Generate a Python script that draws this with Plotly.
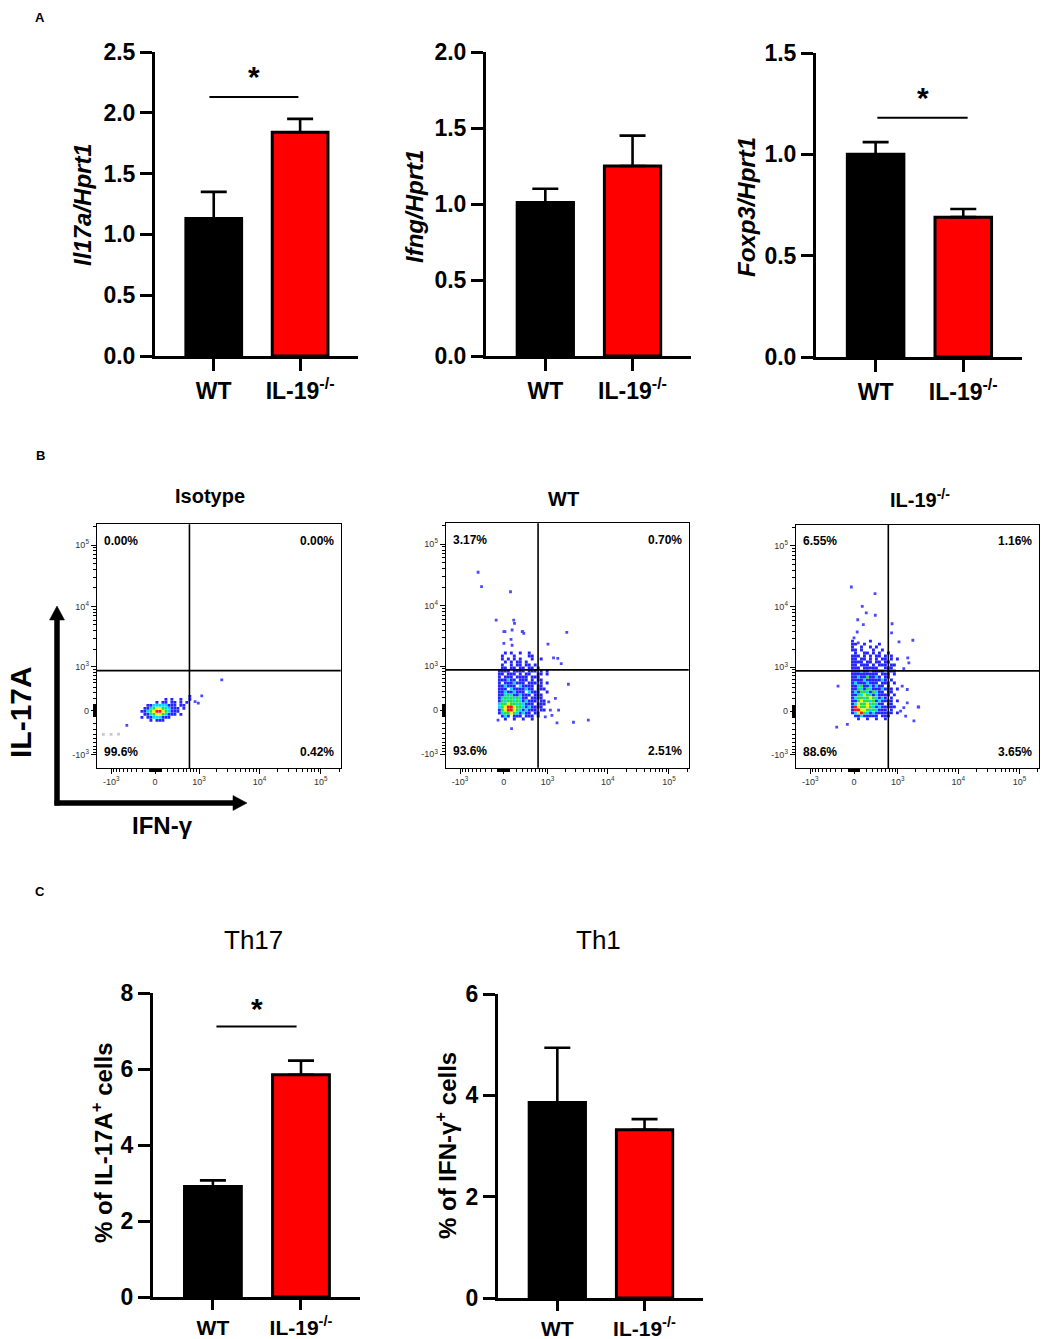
import numpy as np
import plotly.graph_objects as go

W, H = 1043, 1339
FONT = "Liberation Sans, Arial, sans-serif"

# ---------------- data ----------------
groups = ["WT", "IL-19<sup>-/-</sup>"]

il17a_mean = [1.13, 1.84]
il17a_sem = [0.22, 0.11]
ifng_mean = [1.01, 1.25]
ifng_sem = [0.09, 0.20]
foxp3_mean = [1.00, 0.69]
foxp3_sem = [0.06, 0.04]

th17_mean = [2.91, 5.85]
th17_sem = [0.16, 0.37]
th1_mean = [3.86, 3.32]
th1_sem = [1.08, 0.21]

# quadrant frequencies: UL, UR, LL, LR
iso_quads = ["0.00%", "0.00%", "99.6%", "0.42%"]
wt_quads = ["3.17%", "0.70%", "93.6%", "2.51%"]
ko_quads = ["6.55%", "1.16%", "88.6%", "3.65%"]

flow_tick_raw = [-1000, 0, 1000, 10000, 100000]
flow_tick_text = ["-10<sup>3</sup>", "0", "10<sup>3</sup>", "10<sup>4</sup>", "10<sup>5</sup>"]
gate_ifng_raw = 670
gate_il17_raw = 860

# pseudocolor density (arcsinh units, cofactor 400)
# . empty  b blue  c cyan  g green  y yellow  r red ; first row = top
iso_density = [
    "................b",
    "........b.b..b..b",
    ".....b.bb.bb.b.b.",
    "..bbcccccbbb.bb..",
    ".bbcgyygccbbb.b..",
    "bbcgyrrygcbbb....",
    ".bbcgyygcbbb.b...",
    "b.bbcccbbb.......",
    "...b.bbb.........",
]
wt_density = [
    "....b.b..b..b......",
    "...b...b....bb.....",
    "...b.b.b.b...b..b..",
    "....b.b.bb.b.......",
    "...b..b.bb.bb.b....",
    "...bb.bb.bb.bb.b...",
    "..bbbb.bbbb.bbb.b.b",
    "..bb.bbb.b.bb..bb.b",
    "..b.bbb.bbbb.bbb...",
    "..bbbcbb.bbb.b.bb..",
    "..b.bbbcbbb.bbb.b.b",
    "..bbcbbb.cbbbb.bb..",
    "..bbb.cbbbbcbb.bbb.",
    "..bbcbbcbbb.cbbb..b",
    "..bbcgcbbcbbb.bbb..",
    "..bcgcgcgcbb.bbbb..",
    "..bgcggcgcbcbbb.bb.",
    "..cggyggcgcbbb.bbb.",
    "..cgyrryggcbcbbbb..",
    "..bgyrrygcbcbbb.bb.",
    "..bcggygcbcbb.bb...",
    "...bcb.bbb.bbb.b...",
    "....b..b..b..b.....",
]
ko_density = [
    ".b.....b.........",
    ".bb..b....b......",
    ".b..b..b.b.......",
    ".bb.b...b..b.....",
    "..b..bb.b.b..b...",
    ".bbb.b.b.bb.b.b..",
    ".bb.bb.b.b.bb.b.b",
    ".bbbb.bb.bb.bb...",
    ".bb.bbb.b.bbb.bb.",
    ".bbb.bbbbb..bbb..",
    ".bbbcbb.bbbb.bbb.",
    ".bbbbbbbbb.bbb.b.",
    ".bbcbbgbbcb.bb...",
    ".bbbbcbbbbbcb.b..",
    ".bcbbbcbbb.bbb.b.",
    ".bbcgbbcbcbb.b...",
    ".bbgcbgcbbbcbbb.b",
    ".bcbggcbgcbb.bb..",
    ".bbgcygcbcbbbb.b.",
    ".bcggcgygcbcb.b..",
    ".bbgyggcgbcbbbb.b",
    ".bcyggycgcbb.bb..",
    ".bryggygcbcbbbbb.",
    ".brryygcgcbbb.b..",
    ".bcyrgcbcbbbbbb.b",
    "..bbcbbbbb.bbb...",
    "...b..b..b..b....",
]

# sparse events outside the dense cloud (arcsinh units)
iso_evt_x = [1.50, 1.62, 1.75, 2.50, -1.06]
iso_evt_y = [0.35, 0.29, 0.56, 1.16, -0.54]
iso_faint_x = [-1.94, -1.65, -1.37]
iso_faint_y = [-0.88, -0.88, -0.87]

wt_evt_x = [-0.97, -0.84, 0.25, -0.29, 0.04, 0.37, 0.40, 0.71, 0.75, 2.37, 1.66, 1.87,
            2.03, 2.16, 2.43, 1.94, 1.69, 1.75, 2.06, 1.56, 1.81, 2.00, 2.62, 3.18,
            0.29, -0.22, 0.69, 0.00, 0.31, 0.00, 0.31, 0.27]
wt_evt_y = [5.16, 4.62, 4.43, 3.37, 2.94, 3.37, 3.25, 2.94, 2.87, 2.91, 2.47, 1.96,
            1.94, 1.74, 0.97, 0.44, 0.31, 0.00, 0.00, -0.25, -0.19, -0.47, -0.45, -0.37,
            -0.69, -0.37, 2.94, 2.94, 3.00, 2.50, 2.43, 2.65]

ko_evt_x = [-0.10, 0.79, 0.31, 0.46, 0.80, 0.14, 0.35, 1.43, 1.41, 1.69, 2.21, 2.02,
            2.06, 1.87, -0.60, -0.25, -0.65, 2.41, 2.25, 1.94, 1.81, 2.00, 0.12, 0.00,
            0.16, 2.00, 1.87, 2.43, 1.75]
ko_evt_y = [4.66, 4.41, 3.93, 3.69, 3.60, 3.43, 3.25, 3.28, 2.94, 2.60, 2.66, 2.00,
            1.81, 1.59, 0.94, -0.50, -0.60, 0.16, -0.37, -0.19, 0.94, 0.81, 2.97, 2.75,
            2.56, 0.31, 0.13, 0.15, 0.00]

# ---------------- helpers ----------------
COFACTOR = 400.0
CELL = 3 / 26.7          # density cell, arcsinh units
FLOW_XR = [-2.19, 6.96]
FLOW_YR = [-2.15, 6.99]
LEVEL_COLORS = {"b": "#2424ff", "c": "#00d8ff", "g": "#22e03a", "y": "#f2f200", "r": "#ff1010"}


def asinh_scale(v):
    return np.arcsinh(np.asarray(v, dtype=float) / COFACTOR)


def px(x, y):
    return x / W, 1 - y / H


def dom_x(a, b):
    return [a / W, b / W]


def dom_y(top, bottom):
    return [1 - bottom / H, 1 - top / H]


def text(x, y, s, size, bold=True, italic=False, angle=0, xanchor="center",
         yanchor="middle", ref=None, color="black"):
    if bold:
        s = "<b>" + s + "</b>"
    if italic:
        s = "<i>" + s + "</i>"
    if ref is None:
        x, y = px(x, y)
        xref = yref = "paper"
    else:
        xref, yref = ref + " domain", ref.replace("x", "y") + " domain"
    return dict(x=x, y=y, xref=xref, yref=yref, text=s, showarrow=False,
                textangle=angle, xanchor=xanchor, yanchor=yanchor,
                font=dict(family=FONT, size=size, color=color))


fig = go.Figure()
annotations = []
shapes = []

# ---------------- bar charts ----------------
bar_panels = [
    # axis id, means, sems, ymax, tick step, x domain px, y domain px, ytitle, title pos,
    # (x tick font, y tick font, tick length)
    ("", il17a_mean, il17a_sem, 2.5, 0.5, (155, 358), (52, 356), "Il17a/Hprt1", (82, 205), (23, 23, 12)),
    ("2", ifng_mean, ifng_sem, 2.0, 0.5, (486, 691), (52, 356), "Ifng/Hprt1", (414, 207), (23, 23, 12)),
    ("3", foxp3_mean, foxp3_sem, 1.5, 0.5, (816, 1022), (53, 357), "Foxp3/Hprt1", (746, 207), (23, 23, 12)),
    ("7", th17_mean, th17_sem, 8, 2, (153, 360), (993, 1297), "% of IL-17A<sup>+</sup> cells", (102, 1143),
     (21, 23, 10)),
    ("8", th1_mean, th1_sem, 6, 2, (498, 703), (994, 1298), "% of IFN-γ<sup>+</sup> cells", (446, 1146),
     (21, 23, 10)),
]

for ax, means, sems, ymax, step, xd, yd, ytitle, tpos, fs in bar_panels:
    fig.add_trace(go.Bar(
        x=[0, 1], y=means, width=0.645,
        marker=dict(color=["#000000", "#ff0000"], line=dict(color="black", width=3)),
        error_y=dict(type="data", array=sems, arrayminus=[0, 0], symmetric=False,
                     color="black", thickness=2.6, width=13),
        xaxis="x" + ax, yaxis="y" + ax, showlegend=False, hoverinfo="skip",
    ))
    ticks = np.arange(0, ymax + step / 2, step)
    fmt = "{:.1f}" if step < 1 else "{:.0f}"
    fig.update_layout(**{
        "xaxis" + ax: dict(domain=dom_x(*xd), range=[-0.68, 1.67], anchor="y" + ax,
                           tickvals=[0, 1], ticktext=groups, ticks="outside", ticklen=fs[2],
                           tickwidth=3, tickcolor="black", showline=True, linewidth=3,
                           linecolor="black", showgrid=False, zeroline=False,
                           tickfont=dict(family=FONT, size=fs[0], color="black", weight="bold"),
                           fixedrange=True),
        "yaxis" + ax: dict(domain=dom_y(*yd), range=[0, ymax], anchor="x" + ax,
                           tickvals=list(ticks), ticktext=[fmt.format(t) for t in ticks],
                           ticks="outside", ticklen=12, tickwidth=3, tickcolor="black",
                           showline=True, linewidth=3, linecolor="black", showgrid=False,
                           zeroline=False,
                           tickfont=dict(family=FONT, size=fs[1], color="black", weight="bold"),
                           fixedrange=True),
    })
    annotations.append(text(tpos[0], tpos[1], ytitle, 24, italic=(ax in ("", "2", "3")), angle=-90))

# significance brackets
sig = [("", -0.05, 0.98, 2.13, 2.30), ("3", 0.02, 1.05, 1.18, 1.278), ("7", 0.04, 0.95, 7.12, 7.6)]
for ax, x0, x1, yl, ys in sig:
    shapes.append(dict(type="line", xref="x" + ax, yref="y" + ax, x0=x0, x1=x1, y0=yl, y1=yl,
                       line=dict(color="black", width=2)))
    annotations.append(dict(x=(x0 + x1) / 2, y=ys, xref="x" + ax, yref="y" + ax, text="<b>*</b>",
                            showarrow=False, yanchor="middle",
                            font=dict(family=FONT, size=30, color="black")))

annotations.append(text(253, 940, "Th17", 26, bold=False))
annotations.append(text(598, 940, "Th1", 26, bold=False))

# ---------------- flow dot plots ----------------
minor_raw = ([-m * 10 for m in range(1, 10)] + [-m * 100 for m in range(2, 10)]
             + [m * 10 for m in range(1, 10)] + [m * 100 for m in range(2, 10)]
             + [m * 1000 for m in range(2, 10)] + [m * 10000 for m in range(2, 10)] + [200000])
minor_vals = list(asinh_scale(minor_raw))
major_vals = list(asinh_scale(flow_tick_raw))

flow_panels = [
    ("4", iso_density, (-0.494, 0.543), iso_evt_x, iso_evt_y, iso_quads, (96.7, 340.7), (524.3, 768.3),
     "Isotype", (210, 496)),
    ("5", wt_density, (-0.393, 2.142), wt_evt_x, wt_evt_y, wt_quads, (445.7, 688.7), (523.3, 767.7),
     "WT", (563, 499)),
    ("6", ko_density, (-0.169, 2.629), ko_evt_x, ko_evt_y, ko_quads, (795.7, 1039.3), (525, 768.3),
     "IL-19<sup>-/-</sup>", (920, 498)),
]

for ax, dens, origin, ex, ey, quads, xd, yd, title, tpos in flow_panels:
    fig.add_trace(go.Scatter(
        x=ex, y=ey, mode="markers", xaxis="x" + ax, yaxis="y" + ax, showlegend=False,
        hoverinfo="skip", marker=dict(symbol="square", size=2.8, color="#4a4aff", line_width=0),
    ))
    # one marker per density cell, drawn level by level so the hot core ends on top
    for lev, col in LEVEL_COLORS.items():
        cx, cy = [], []
        for r, row in enumerate(dens):
            for c, ch in enumerate(row):
                if ch == lev:
                    cx.append(origin[0] + CELL * c)
                    cy.append(origin[1] - CELL * r)
        fig.add_trace(go.Scatter(
            x=cx, y=cy, mode="markers", xaxis="x" + ax, yaxis="y" + ax, showlegend=False,
            hoverinfo="skip", marker=dict(symbol="square", size=2.9, color=col, line_width=0),
        ))
    axis_common = dict(showline=True, mirror=True, linecolor="black", linewidth=1,
                       showgrid=False, zeroline=False, ticks="outside", ticklen=5,
                       tickwidth=1, tickcolor="black", tickvals=major_vals,
                       ticktext=flow_tick_text, fixedrange=True,
                       tickfont=dict(family=FONT, size=9, color="#333333"),
                       minor=dict(tickmode="array", tickvals=minor_vals, ticks="outside",
                                  ticklen=3, tickwidth=0.8, tickcolor="black"))
    fig.update_layout(**{
        "xaxis" + ax: dict(domain=dom_x(*xd), range=FLOW_XR, anchor="y" + ax, **axis_common),
        "yaxis" + ax: dict(domain=dom_y(*yd), range=FLOW_YR, anchor="x" + ax, **axis_common),
    })
    gx = float(asinh_scale(gate_ifng_raw))
    gy = float(asinh_scale(gate_il17_raw))
    shapes.append(dict(type="line", xref="x" + ax, yref="y" + ax + " domain", x0=gx, x1=gx,
                       y0=0, y1=1, line=dict(color="black", width=1.6)))
    shapes.append(dict(type="line", xref="x" + ax + " domain", yref="y" + ax, x0=0, x1=1,
                       y0=gy, y1=gy, line=dict(color="black", width=1.6)))
    ref = "x" + ax
    annotations.append(text(0.02, 0.97, quads[0], 12, xanchor="left", yanchor="top", ref=ref))
    annotations.append(text(0.98, 0.97, quads[1], 12, xanchor="right", yanchor="top", ref=ref))
    annotations.append(text(0.02, 0.03, quads[2], 12, xanchor="left", yanchor="bottom", ref=ref))
    annotations.append(text(0.98, 0.03, quads[3], 12, xanchor="right", yanchor="bottom", ref=ref))
    annotations.append(text(tpos[0], tpos[1], title, 20))

fig.add_trace(go.Scatter(
    x=iso_faint_x, y=iso_faint_y, mode="markers", xaxis="x4", yaxis="y4", showlegend=False,
    hoverinfo="skip", marker=dict(symbol="square", size=2.8, color="#c8c8c8", line_width=0),
))


# axis legend arrows for panel B
def seg(x0, y0, x1, y1, w):
    a, b = px(x0, y0)
    c, d = px(x1, y1)
    return dict(type="line", xref="paper", yref="paper", x0=a, y0=b, x1=c, y1=d,
                line=dict(color="black", width=w))


def tri(pts):
    path = ""
    for k, (x, y) in enumerate(pts):
        u, v = px(x, y)
        path += ("M" if k == 0 else "L") + f"{u:.5f},{v:.5f} "
    return dict(type="path", xref="paper", yref="paper", path=path + "Z",
                fillcolor="black", line=dict(color="black", width=0.5))


shapes += [
    seg(57, 805.5, 57, 619, 5.5),
    tri([(49.5, 620), (64.5, 620), (57, 606)]),
    seg(54.5, 803, 234, 803, 5.5),
    tri([(233, 795.5), (233, 810.5), (247, 803)]),
]
annotations.append(text(20, 712, "IL-17A", 30, angle=-90))
annotations.append(text(162, 826, "IFN-γ", 24))

# panel letters
annotations.append(text(40, 18, "A", 13))
annotations.append(text(40, 455, "B", 13))
annotations.append(text(40, 891, "C", 13))

fig.update_layout(
    width=W, height=H, margin=dict(l=0, r=0, t=0, b=0, pad=0, autoexpand=False),
    paper_bgcolor="white", plot_bgcolor="rgba(0,0,0,0)",
    showlegend=False, annotations=annotations, shapes=shapes,
    font=dict(family=FONT, color="black"),
)

# the page's default 8px body margin would push the figure off the window
fig.write_html("out.html", config={"displayModeBar": False},
               post_script="document.body.style.margin = '0px';")
